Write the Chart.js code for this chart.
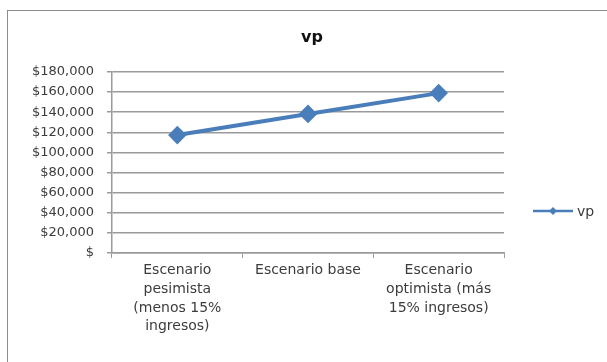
<!DOCTYPE html>
<html>
<head>
<meta charset="utf-8">
<script src="https://cdn.jsdelivr.net/npm/chart.js@4"></script>
<style>
  html, body { margin: 0; padding: 0; background: #fff; overflow: hidden; }
  #frame {
    position: absolute; left: 7px; top: 10px; width: 640px; height: 400px;
    border: 1.5px solid #8c8c8c; box-sizing: border-box;
  }
  #vpChart { position: absolute; left: 0; top: 0; }
</style>
</head>
<body>
<div id="frame"></div>
<canvas id="vpChart" width="607" height="362"></canvas>
<script>
// --- data ---
const categories = [
  ['Escenario', 'pesimista', '(menos 15%', 'ingresos)'],
  ['Escenario base'],
  ['Escenario', 'optimista (más', '15% ingresos)']
];
const vpValues = [117300, 138300, 159000];
const yTicksMax = 180000;
const yTicksStep = 20000;

const lineBlue = '#4a7ebb';
const gridGray = '#9a9a9a';
const textGray = '#3c3c3c';
const fontFamily = "'DejaVu Sans', sans-serif";

// legend drawn like Excel: short line with a diamond, then the series name
const excelLegend = {
  id: 'excelLegend',
  afterDraw(chart) {
    const ds = chart.data.datasets[0];
    const c = chart.ctx;
    const x0 = 533, x1 = 573, y = 211;
    c.save();
    c.strokeStyle = ds.borderColor;
    c.lineWidth = 2.5;
    c.beginPath();
    c.moveTo(x0, y);
    c.lineTo(x1, y);
    c.stroke();
    const mx = (x0 + x1) / 2, r = 4;
    c.fillStyle = ds.borderColor;
    c.beginPath();
    c.moveTo(mx, y - r);
    c.lineTo(mx + r, y);
    c.lineTo(mx, y + r);
    c.lineTo(mx - r, y);
    c.closePath();
    c.fill();
    c.fillStyle = textGray;
    c.font = '14px ' + fontFamily;
    c.textBaseline = 'middle';
    c.textAlign = 'left';
    c.fillText(ds.label, 577, y + 1);
    c.restore();
  }
};

new Chart(document.getElementById('vpChart'), {
  type: 'line',
  data: {
    labels: categories,
    datasets: [{
      label: 'vp',
      data: vpValues,
      borderColor: lineBlue,
      backgroundColor: lineBlue,
      borderWidth: 4,
      pointStyle: 'rectRot',
      pointRadius: 6.5,
      pointBackgroundColor: lineBlue,
      pointBorderColor: lineBlue,
      tension: 0,
      fill: false
    }]
  },
  options: {
    responsive: false,
    animation: false,
    layout: { padding: { left: 17, right: 0, top: 0, bottom: 0 } },
    plugins: {
      legend: { display: false },
      tooltip: { enabled: false },
      title: {
        display: true,
        text: 'vp',
        color: '#111',
        font: { family: fontFamily, size: 16, weight: 'bold' },
        padding: { top: 28.4, bottom: 24.4 }
      }
    },
    scales: {
      x: {
        offset: true,
        grid: {
          offset: true,
          drawOnChartArea: false,
          drawTicks: true,
          tickLength: 5,
          color: gridGray
        },
        border: { display: true, color: gridGray, width: 1.5 },
        ticks: {
          color: textGray,
          font: { family: fontFamily, size: 14, lineHeight: 1.34 },
          maxRotation: 0,
          autoSkip: false,
          padding: 3
        },
        afterFit(scale) { scale.height = 362 - 253; }
      },
      y: {
        min: 0,
        max: yTicksMax,
        grid: {
          color: gridGray,
          lineWidth: 1.5,
          drawTicks: true,
          tickLength: 5
        },
        border: { display: true, color: gridGray, width: 1.5 },
        ticks: {
          stepSize: yTicksStep,
          color: textGray,
          font: { family: fontFamily, size: 13 },
          padding: 13,
          callback: v => v === 0 ? '$' : '$' + v.toLocaleString('en-US')
        },
        afterFit(scale) { scale.width = 112 - 17; }
      },
      // empty right-hand axis: keeps room for the legend while the title stays centred on the whole chart
      legendSpace: {
        type: 'linear',
        position: 'right',
        grid: { display: false },
        border: { display: false },
        ticks: { display: false },
        afterFit(scale) { scale.width = 607 - 504; }
      }
    }
  },
  plugins: [excelLegend]
});
</script>
</body>
</html>
